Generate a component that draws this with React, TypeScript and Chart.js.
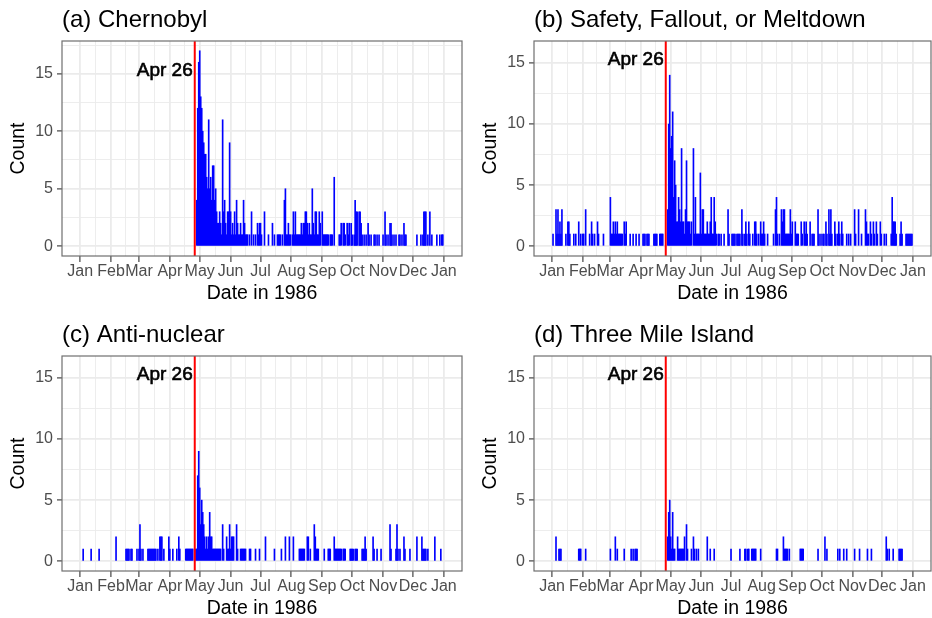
import React, { useEffect, useRef } from 'react';
import { Chart, registerables } from 'chart.js';

Chart.register(...registerables);

// ---------- data ----------
const monthLabels = ['Jan', 'Feb', 'Mar', 'Apr', 'May', 'Jun', 'Jul', 'Aug', 'Sep', 'Oct', 'Nov', 'Dec', 'Jan'];
// day-of-year (Jan 1 1986 = 0) of each month start
const monthStartDays = [0, 31, 59, 90, 120, 151, 181, 212, 243, 273, 304, 334, 365];
const yMajorTicks = [0, 5, 10, 15];
const yMinorTicks = [2.5, 7.5, 12.5, 17.5];
const panelTitles = ['(a) Chernobyl', '(b) Safety, Fallout, or Meltdown', '(c) Anti-nuclear', '(d) Three Mile Island'];
const panelYMax = [17, 16, 16, 16];
const eventDay = 115; // Apr 26
const eventLabel = 'Apr 26';
const eventLabelY = 15.3;
const xAxisTitle = 'Date in 1986';
const yAxisTitle = 'Count';
const daysInYear = 365;

// [day-of-year, count] for days with a non-zero count
const chernobylCounts: [number, number][] = [
  [117, 4], [118, 12], [119, 16], [120, 17], [121, 13], [122, 12], [123, 10], [124, 9], [125, 8], [126, 8],
  [127, 6], [128, 5], [129, 11], [130, 5], [131, 6], [132, 4], [133, 7], [134, 7], [135, 4], [136, 5],
  [137, 3], [138, 2], [139, 2], [140, 3], [141, 2], [142, 1], [143, 11], [144, 3], [145, 4], [146, 2],
  [147, 1], [148, 3], [149, 3], [150, 9], [151, 3], [152, 1], [153, 2], [154, 1], [155, 3], [156, 1],
  [157, 4], [158, 2], [159, 1], [160, 1], [161, 2], [162, 1], [163, 1], [164, 4], [165, 2], [166, 1],
  [167, 1], [168, 1], [170, 1], [172, 3], [174, 1], [176, 1], [178, 2], [179, 1], [180, 2], [181, 2],
  [182, 1], [185, 3], [189, 1], [193, 2], [195, 1], [198, 1], [199, 1], [200, 1], [201, 1], [203, 1],
  [205, 4], [206, 5], [207, 1], [208, 1], [209, 2], [210, 1], [211, 1], [213, 1], [214, 3], [215, 1],
  [216, 3], [217, 1], [218, 1], [219, 1], [220, 1], [221, 1], [222, 2], [223, 1], [224, 2], [225, 2],
  [226, 3], [227, 3], [228, 2], [229, 1], [230, 2], [231, 1], [232, 1], [233, 5], [234, 2], [235, 1],
  [236, 3], [237, 3], [238, 1], [239, 1], [240, 3], [241, 2], [243, 3], [244, 1], [245, 1], [246, 1],
  [247, 1], [248, 1], [249, 1], [251, 1], [252, 1], [253, 1], [255, 6], [260, 1], [261, 1], [262, 2],
  [264, 2], [265, 2], [266, 1], [268, 2], [269, 1], [270, 2], [272, 2], [273, 1], [275, 1], [276, 4],
  [277, 3], [278, 3], [280, 3], [281, 3], [282, 2], [283, 1], [285, 1], [287, 1], [289, 2], [290, 1],
  [292, 1], [295, 1], [296, 1], [298, 1], [300, 1], [304, 1], [306, 3], [307, 1], [309, 1], [311, 2],
  [312, 2], [313, 1], [315, 1], [317, 1], [320, 1], [321, 1], [323, 1], [325, 2], [326, 1], [327, 1],
  [338, 1], [342, 1], [344, 1], [345, 3], [346, 3], [347, 3], [349, 1], [351, 3], [353, 1], [358, 1],
  [361, 1], [363, 1], [364, 1],
];

const safetyCounts: [number, number][] = [
  [1, 1], [4, 3], [5, 1], [6, 3], [7, 1], [8, 2], [9, 1], [10, 3], [14, 1], [16, 2], [17, 2], [18, 1],
  [22, 1], [24, 1], [27, 2], [29, 1], [31, 1], [32, 1], [34, 3], [38, 1], [40, 2], [41, 1], [43, 1],
  [46, 2], [47, 1], [52, 1], [59, 4], [60, 1], [61, 1], [62, 2], [63, 1], [64, 2], [65, 1], [66, 2],
  [67, 1], [68, 1], [69, 1], [70, 1], [71, 1], [73, 2], [74, 1], [75, 2], [79, 1], [82, 1], [85, 1],
  [88, 1], [92, 1], [93, 1], [94, 1], [96, 1], [97, 1], [98, 1], [103, 1], [104, 1], [105, 1], [106, 1],
  [109, 1], [110, 1], [111, 1], [112, 1],
  [117, 3], [118, 10], [119, 14], [120, 8], [121, 9], [122, 11], [123, 4], [124, 7], [125, 5], [126, 2],
  [127, 2], [128, 4], [129, 3], [130, 2], [131, 8], [132, 2], [133, 2], [134, 1], [135, 3], [136, 7],
  [137, 2], [138, 2], [139, 2], [140, 1], [141, 2], [143, 8], [144, 1], [145, 4], [146, 1], [147, 1],
  [148, 1], [149, 1], [150, 6], [151, 1], [152, 3], [153, 3], [154, 1], [155, 1], [156, 1], [157, 2],
  [158, 1], [159, 1], [160, 2], [161, 4], [162, 1], [163, 1], [164, 4], [165, 2], [166, 1], [168, 1],
  [169, 1], [171, 1], [174, 1], [178, 3], [179, 1], [182, 1], [183, 1], [184, 1], [185, 1], [187, 1],
  [188, 1], [189, 1], [190, 1], [192, 3], [193, 1], [195, 1], [196, 2], [197, 1], [199, 2], [200, 1],
  [203, 1], [205, 2], [206, 2], [207, 1], [209, 1], [211, 2], [212, 1], [213, 1], [214, 2], [215, 1],
  [218, 1], [224, 1], [226, 3], [227, 4], [228, 1], [230, 1], [232, 3], [233, 2], [234, 3], [235, 3],
  [236, 1], [237, 1], [238, 1], [239, 1], [240, 1], [241, 3], [242, 1], [243, 2], [246, 2], [247, 1],
  [248, 1], [249, 1], [252, 2], [253, 1], [255, 2], [256, 1], [257, 2], [258, 1], [261, 2], [263, 1],
  [264, 1], [265, 1], [269, 3], [270, 1], [272, 1], [274, 1], [275, 1], [277, 2], [278, 1], [280, 3],
  [281, 1], [282, 3], [283, 1], [286, 2], [287, 1], [289, 1], [290, 2], [291, 1], [293, 2], [294, 1],
  [298, 1], [300, 1], [302, 1], [306, 3], [307, 1], [310, 3], [313, 1], [317, 3], [318, 2], [319, 1],
  [320, 1], [322, 2], [323, 1], [325, 2], [326, 1], [328, 2], [329, 1], [332, 2], [333, 1], [336, 1],
  [338, 1], [343, 1], [344, 4], [345, 2], [346, 2], [347, 2], [348, 1], [352, 1], [353, 2], [354, 1],
  [358, 1], [359, 1], [360, 1], [361, 1], [362, 1], [363, 1], [364, 1],
];

const antiNuclearCounts: [number, number][] = [
  [3, 1], [11, 1], [19, 1], [36, 2], [46, 1], [47, 1], [48, 1], [49, 1], [51, 1], [52, 1], [57, 1],
  [59, 1], [60, 3], [61, 1], [63, 1], [68, 1], [69, 1], [70, 1], [71, 1], [72, 1], [73, 1], [74, 1],
  [75, 1], [76, 1], [78, 1], [80, 2], [81, 2], [82, 2], [84, 1], [89, 2], [90, 1], [93, 1], [97, 1],
  [99, 2], [100, 1], [106, 1], [107, 1], [108, 1], [109, 1], [110, 1], [111, 1], [112, 1], [113, 1],
  [116, 1], [117, 1], [118, 7], [119, 9], [120, 6], [121, 3], [122, 5], [123, 4], [124, 3], [125, 2],
  [126, 1], [127, 2], [128, 1], [129, 2], [130, 4], [131, 2], [132, 2], [133, 1], [134, 1], [135, 1],
  [136, 1], [137, 1], [138, 1], [139, 1], [140, 1], [141, 1], [143, 3], [144, 1], [147, 2], [148, 1],
  [149, 1], [150, 3], [151, 1], [152, 2], [153, 2], [154, 2], [157, 3], [158, 1], [161, 1], [162, 1],
  [163, 1], [164, 1], [165, 1], [166, 1], [170, 1], [171, 1], [176, 1], [180, 1], [186, 2], [195, 1],
  [202, 1], [206, 2], [210, 2], [214, 2], [220, 1], [221, 1], [222, 1], [223, 1], [224, 1], [225, 1],
  [228, 2], [229, 2], [231, 1], [235, 3], [236, 2], [237, 1], [238, 1], [239, 1], [245, 1], [249, 1],
  [250, 1], [251, 1], [255, 2], [256, 1], [257, 1], [258, 1], [259, 1], [260, 1], [261, 1], [262, 1],
  [264, 1], [265, 1], [266, 1], [271, 1], [272, 1], [273, 1], [274, 1], [276, 1], [277, 1], [278, 1],
  [283, 1], [284, 1], [285, 1], [286, 2], [287, 1], [294, 2], [295, 1], [298, 1], [302, 1], [311, 3],
  [312, 1], [317, 1], [318, 3], [319, 1], [321, 1], [325, 2], [326, 1], [331, 1], [338, 2], [343, 2],
  [344, 1], [345, 1], [346, 1], [347, 1], [349, 1], [356, 2], [362, 1],
];

const threeMileIslandCounts: [number, number][] = [
  [4, 2], [7, 1], [8, 1], [9, 1], [27, 1], [28, 1], [29, 1], [34, 1], [59, 1], [64, 2], [66, 1],
  [73, 1], [80, 1], [82, 1], [84, 1], [85, 1], [86, 1],
  [117, 2], [118, 4], [119, 5], [120, 2], [121, 1], [122, 4], [123, 1], [124, 1], [127, 2], [128, 1],
  [129, 1], [130, 1], [131, 1], [132, 1], [133, 1], [134, 2], [136, 3], [137, 1], [141, 1], [143, 2],
  [144, 1], [146, 1], [148, 1], [157, 2], [160, 1], [164, 1], [181, 1], [190, 1], [195, 1], [196, 1],
  [198, 1], [199, 1], [202, 1], [203, 1], [204, 1], [205, 1], [206, 1], [211, 1], [227, 1], [228, 1],
  [234, 2], [235, 1], [236, 1], [237, 1], [238, 1], [240, 1], [251, 1], [252, 1], [253, 1], [254, 1],
  [269, 1], [276, 2], [278, 1], [289, 1], [291, 1], [295, 1], [298, 1], [306, 1], [311, 1], [319, 1],
  [323, 1], [338, 2], [339, 1], [341, 1], [345, 1], [351, 1], [352, 1], [353, 1], [354, 1],
];

const panelCounts = [chernobylCounts, safetyCounts, antiNuclearCounts, threeMileIslandCounts];

// ---------- styling helpers ----------
const FONT = '"Liberation Sans", Arial, Helvetica, sans-serif';
const xMinorTicks = monthStartDays.slice(1).map((d, i) => (d + monthStartDays[i]) / 2);
const isMonthStart = (v: number) => monthStartDays.indexOf(v) >= 0;
const isYMajor = (v: number) => yMajorTicks.indexOf(v) >= 0;

const decorPlugin = {
  id: 'panelDecor',
  afterDraw(chart: any, _args: any, opts: any) {
    const { ctx, chartArea: a, scales } = chart;
    ctx.save();
    // panel border
    ctx.strokeStyle = '#6f6f6f';
    ctx.lineWidth = 1.2;
    ctx.strokeRect(a.left, a.top, a.right - a.left, a.bottom - a.top);
    // panel title
    ctx.fillStyle = '#000000';
    ctx.font = `24px ${FONT}`;
    ctx.textAlign = 'left';
    ctx.textBaseline = 'alphabetic';
    ctx.fillText(opts.title, a.left, 27);
    // event label
    const x = scales.x.getPixelForValue(eventDay);
    const y = scales.y.getPixelForValue(eventLabelY);
    ctx.font = `19px ${FONT}`;
    ctx.textAlign = 'right';
    ctx.textBaseline = 'middle';
    ctx.strokeStyle = '#000000';
    ctx.lineWidth = 0.6;
    ctx.fillText(eventLabel, x - 2, y);
    ctx.strokeText(eventLabel, x - 2, y);
    ctx.restore();
  },
};

type PanelProps = { idx: number; left: number; top: number; width: number; height: number; padRight: number };

function Panel({ idx, left, top, width, height, padRight }: PanelProps) {
  const ref = useRef<HTMLCanvasElement>(null);
  useEffect(() => {
    const yMax = panelYMax[idx];
    const yLo = -0.05 * yMax;
    const yHi = 1.05 * yMax;
    const xLo = -0.05 * daysInYear;
    const xHi = daysInYear * 1.05;
    const chart = new Chart(ref.current as HTMLCanvasElement, {
      type: 'bar',
      data: {
        datasets: [
          {
            type: 'line',
            data: [
              { x: eventDay, y: yLo },
              { x: eventDay, y: yHi },
            ],
            borderColor: '#FF0000',
            borderWidth: 2,
            pointRadius: 0,
            order: 0,
          } as any,
          {
            type: 'bar',
            data: panelCounts[idx].map(([d, c]) => ({ x: d, y: c })),
            backgroundColor: '#0000FF',
            borderWidth: 0,
            barPercentage: 1,
            categoryPercentage: 1,
            grouped: false,
            order: 1,
          } as any,
        ],
      },
      options: {
        responsive: false,
        animation: false,
        events: [],
        layout: { padding: { left: 0, top: 41, right: padRight, bottom: 0 } },
        plugins: {
          legend: { display: false },
          title: { display: false },
          tooltip: { enabled: false },
          panelDecor: { title: panelTitles[idx] },
        } as any,
        scales: {
          x: {
            type: 'linear',
            min: xLo,
            max: xHi,
            offset: false,
            bounds: 'data',
            afterBuildTicks: (s: any) => {
              s.ticks = [...monthStartDays, ...xMinorTicks].sort((p, q) => p - q).map((v) => ({ value: v }));
            },
            afterFit: (s: any) => {
              s.height = 47;
            },
            ticks: {
              autoSkip: false,
              maxRotation: 0,
              minRotation: 0,
              padding: 0,
              color: '#4D4D4D',
              font: { family: FONT, size: 16, lineHeight: 1.2 },
              callback: (v: any) => {
                const i = monthStartDays.indexOf(Number(v));
                return i >= 0 ? monthLabels[i] : '';
              },
            },
            grid: {
              offset: false,
              color: '#EBEBEB',
              lineWidth: (c: any) => (c.tick && isMonthStart(c.tick.value) ? 1.8 : 0.9),
              tickLength: 6,
              tickWidth: 1.1,
              tickColor: (c: any) => (c.tick && isMonthStart(c.tick.value) ? '#333333' : 'rgba(0,0,0,0)'),
            },
            border: { display: false },
            title: {
              display: true,
              text: xAxisTitle,
              color: '#000000',
              font: { family: FONT, size: 19.5, lineHeight: 1 },
              padding: { top: 0, bottom: 0 },
            },
          } as any,
          y: {
            type: 'linear',
            min: yLo,
            max: yHi,
            bounds: 'data',
            afterBuildTicks: (s: any) => {
              s.ticks = [...yMajorTicks, ...yMinorTicks]
                .filter((v) => v <= yHi)
                .sort((p, q) => p - q)
                .map((v) => ({ value: v }));
            },
            afterFit: (s: any) => {
              s.width = 62;
            },
            ticks: {
              autoSkip: false,
              padding: 4,
              color: '#4D4D4D',
              font: { family: FONT, size: 16 },
              callback: (v: any) => (isYMajor(Number(v)) ? String(v) : ''),
            },
            grid: {
              color: '#EBEBEB',
              lineWidth: (c: any) => (c.tick && isYMajor(c.tick.value) ? 1.8 : 0.9),
              tickLength: 5,
              tickWidth: 1.1,
              tickColor: (c: any) => (c.tick && isYMajor(c.tick.value) ? '#333333' : 'rgba(0,0,0,0)'),
            },
            border: { display: false },
            title: {
              display: true,
              text: yAxisTitle,
              color: '#000000',
              font: { family: FONT, size: 19.5, lineHeight: 1 },
              padding: { top: 9, bottom: 0 },
            },
          } as any,
        },
      },
      plugins: [decorPlugin as any],
    });
    return () => chart.destroy();
  }, [idx]);
  return (
    <canvas
      ref={ref}
      width={width}
      height={height}
      style={{ position: 'absolute', left, top, width, height, display: 'block' }}
    />
  );
}

export default function App() {
  return (
    <div style={{ position: 'fixed', left: 0, top: 0, width: 932, height: 618, background: '#ffffff', overflow: 'hidden' }}>
      <Panel idx={0} left={0} top={0} width={466} height={303} padRight={4} />
      <Panel idx={1} left={472} top={0} width={460} height={303} padRight={1} />
      <Panel idx={2} left={0} top={315} width={466} height={303} padRight={4} />
      <Panel idx={3} left={472} top={315} width={460} height={303} padRight={1} />
    </div>
  );
}
